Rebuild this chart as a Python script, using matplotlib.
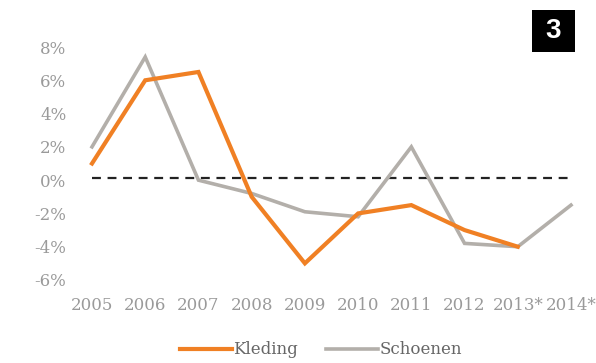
import matplotlib
matplotlib.use("Agg")
import matplotlib.pyplot as plt
from matplotlib.patches import Rectangle

# data
years = ["2005", "2006", "2007", "2008", "2009", "2010", "2011", "2012", "2013*", "2014*"]
kleding = [1.0, 6.0, 6.5, -1.0, -5.0, -2.0, -1.5, -3.0, -4.0]
schoenen = [2.0, 7.4, 0.0, -0.8, -1.9, -2.2, 2.0, -3.8, -4.0, -1.5]
yticks = [8, 6, 4, 2, 0, -2, -4, -6]
ref_level = 0.1

orange = "#F08024"
grey = "#B3AFAA"
label_col = "#9A9A9A"

W, H = 596, 363
fig = plt.figure(figsize=(W / 100, H / 100), dpi=100)
fig.patch.set_facecolor("white")

# axes placed in pixel terms: first year at x=92, last at x=571, 8% at y=47, -6% at y=280
ax = fig.add_axes([92 / W, 1 - 280 / H, (571 - 92) / W, (280 - 47) / H])
ax.set_xlim(0, len(years) - 1)
ax.set_ylim(-6, 8)

xs = range(len(years))
ax.plot(range(len(kleding)), kleding, color=orange, lw=3.0, solid_joinstyle="miter",
        clip_on=False, zorder=3, label="Kleding")
ax.plot(xs, schoenen, color=grey, lw=2.6, solid_joinstyle="miter",
        clip_on=False, zorder=2, label="Schoenen")
ax.plot([0, len(years) - 1], [ref_level, ref_level], color="#222222", lw=1.6,
        ls=(0, (4, 3)), clip_on=False, zorder=1)

for s in ax.spines.values():
    s.set_visible(False)
ax.set_xticks(list(xs))
ax.set_xticklabels(years)
ax.set_yticks(yticks)
ax.set_yticklabels([f"{v}%" for v in yticks])
ax.tick_params(length=0, colors=label_col, labelsize=12)
ax.tick_params(axis="y", pad=18.5)
ax.tick_params(axis="x", pad=12)
for lab in ax.get_xticklabels() + ax.get_yticklabels():
    lab.set_family("DejaVu Serif")
    lab.set_color(label_col)

leg = fig.legend(loc="center", bbox_to_anchor=(321 / W, 1 - 350 / H), ncol=2, frameon=False,
                 handlelength=3.1, handletextpad=0.1, columnspacing=1.7,
                 borderpad=0.2, prop={"family": "DejaVu Serif", "size": 12})
for t in leg.get_texts():
    t.set_color("#666666")

# black box with the figure number
fig.patches.append(Rectangle((532 / W, 1 - 52 / H), 43 / W, 42 / H, transform=fig.transFigure,
                             facecolor="black", edgecolor="none"))
fig.text(553.5 / W, 1 - 31 / H, "3", color="white", fontsize=20, fontweight="bold",
         ha="center", va="center", family="Liberation Sans")

fig.savefig("out.png", dpi=100, facecolor="white")
